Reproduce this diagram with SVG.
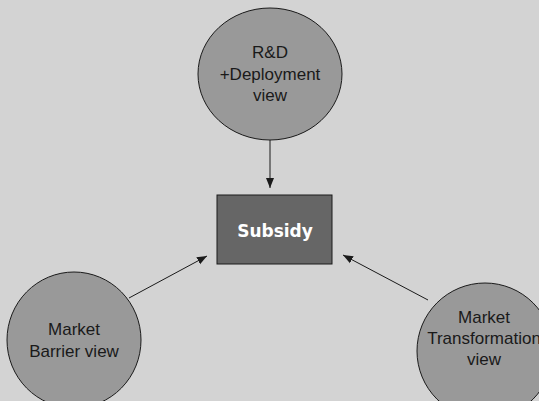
<svg xmlns="http://www.w3.org/2000/svg" width="539" height="401" viewBox="0 0 539 401">
<style>
.c{fill:#999999;stroke:#1a1a1a;stroke-width:1}
.t{font-family:"Liberation Sans",Arial,sans-serif;font-size:17px;fill:#1a1a1a;text-anchor:middle}
.e{stroke:#1a1a1a;stroke-width:1;fill:none}
</style>
<defs>
<marker id="a" viewBox="0 0 10 10" refX="10" refY="5" markerWidth="10" markerHeight="10" markerUnits="userSpaceOnUse" orient="auto">
<path d="M0,1 L10,5 L0,9 Z" fill="#1a1a1a"/>
</marker>
</defs>
<rect width="539" height="401" fill="#d3d3d3"/>
<g id="rd">
<ellipse class="c" cx="270" cy="74" rx="72" ry="66"/>
<text class="t" x="270" y="58">R&amp;D</text>
<text class="t" x="270" y="80">+Deployment</text>
<text class="t" x="270" y="101">view</text>
</g>
<g id="subsidy">
<rect x="217" y="195" width="115" height="69" fill="#666666" stroke="#1a1a1a" stroke-width="1"/>
<text x="275" y="237" font-family="'DejaVu Sans',Verdana,sans-serif" font-size="17" font-weight="bold" fill="#ffffff" text-anchor="middle">Subsidy</text>
</g>
<g id="barrier">
<ellipse class="c" cx="74" cy="340" rx="67" ry="68"/>
<text class="t" x="74" y="335">Market</text>
<text class="t" x="74" y="357">Barrier view</text>
</g>
<g id="transformation">
<ellipse class="c" cx="485" cy="351" rx="68" ry="68"/>
<text class="t" x="484" y="323">Market</text>
<text class="t" x="484" y="344">Transformation</text>
<text class="t" x="484" y="365">view</text>
</g>
<g id="connectors">
<line class="e" x1="270" y1="140" x2="270" y2="188" marker-end="url(#a)"/>
<line class="e" x1="129" y1="298" x2="207" y2="256" marker-end="url(#a)"/>
<line class="e" x1="428" y1="300" x2="343" y2="255" marker-end="url(#a)"/>
</g>
</svg>
